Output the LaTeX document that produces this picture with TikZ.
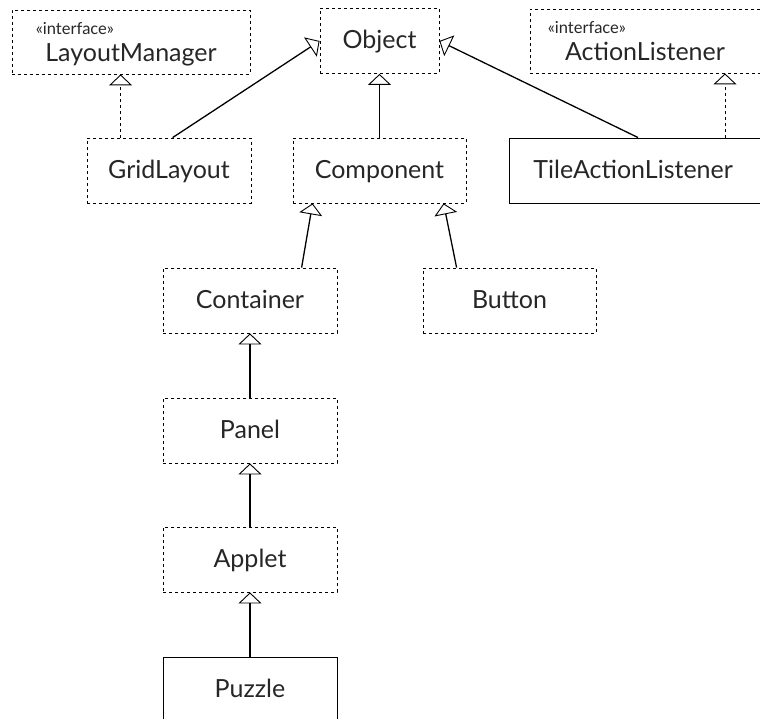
\documentclass[tikz,border=0pt]{standalone}
\usepackage{fontspec}
\setmainfont{Lato}
\usetikzlibrary{arrows.meta,calc}

\begin{document}
\begin{tikzpicture}[x=1pt,y=-1pt,
  namefont/.style={font=\fontsize{25}{30}\selectfont},
  cls/.style={draw, line width=0.8pt, dash pattern=on 3pt off 3pt,
    inner xsep=0pt, inner ysep=0pt, text height=40.5pt, text depth=24.5pt,
    namefont, text=black!85},
  solidcls/.style={cls, solid, line width=0.9pt},
  iface/.style={cls, text height=52pt, text depth=12pt},
  stereo/.style={font=\fontsize{16.5}{18}\selectfont, text=black!85, inner sep=0pt},
  gen/.style={line width=1.3pt, -{Triangle[open, length=11pt, width=23pt, line width=0.9pt]}},
  realize/.style={gen, dash pattern=on 3pt off 3pt, line width=0.9pt}
]
\useasboundingbox (0,0) rectangle (760,719);
\clip (0,0) rectangle (760,719);

% classes and interfaces
\node[iface, minimum width=238pt] (LM) at (131,42) {LayoutManager};
\node[stereo, anchor=base west] at ($(LM.north west)+(24,25)$) {«interface»};
\node[cls, minimum width=119pt] (Obj) at (379.5,41) {Object};
\node[iface, minimum width=230pt] (AL) at (645,41) {ActionListener};
\node[stereo, anchor=base west] at ($(AL.north west)+(18,25)$) {«interface»};

\node[cls, minimum width=164pt] (GL) at (169,170.5) {GridLayout};
\node[cls, minimum width=173pt] (Comp) at (379.5,170.5) {Component};
\node[solidcls, text width=230pt, align=left, inner xsep=24pt, anchor=west] (TAL) at (509,170.5) {TileActionListener};

\node[cls, minimum width=174pt] (Cont) at (250,300.5) {Container};
\node[cls, minimum width=173pt] (Btn) at (509.5,300.5) {Button};
\node[cls, minimum width=174pt] (Panel) at (250,430.5) {Panel};
\node[cls, minimum width=174pt] (Applet) at (250,559.5) {Applet};
\node[solidcls, minimum width=174pt] (Puzzle) at (250,689.5) {Puzzle};

% attachment points on box edges
\coordinate (glA) at ($(GL.north west)+(34,0)$);
\coordinate (glB) at ($(GL.north west)+(86,0)$);
\coordinate (talA) at ($(TAL.north west)+(129,0)$);
\coordinate (talB) at ($(TAL.north west)+(216,0)$);
\coordinate (contA) at ($(Cont.north west)+(139,0)$);
\coordinate (compA) at ($(Comp.south west)+(20,0)$);
\coordinate (btnA) at ($(Btn.north west)+(34,0)$);
\coordinate (compB) at ($(Comp.south west)+(151,0)$);

% generalization
\draw[gen] (glB) -- (Obj.west);
\draw[gen] (Comp) -- (Obj);
\draw[gen] (talA) -- (Obj.east);
\draw[gen] (contA) -- (compA);
\draw[gen] (btnA) -- (compB);
\draw[gen] (Panel) -- (Cont);
\draw[gen] (Applet) -- (Panel);
\draw[gen] (Puzzle) -- (Applet);

% realization
\draw[realize] (glA) -- (glA |- LM.south);
\draw[realize] (talB) -- (talB |- AL.south);
\end{tikzpicture}
\end{document}
